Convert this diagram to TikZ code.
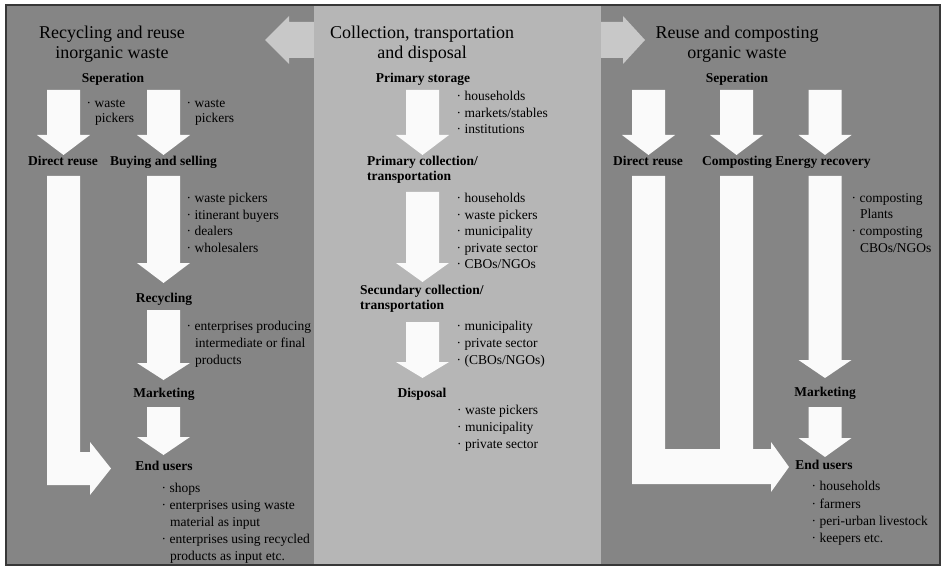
\documentclass[tikz,border=0pt]{standalone}
\usepackage{fontspec}
\setmainfont{Liberation Serif}
\definecolor{paneldark}{RGB}{133,133,133}
\definecolor{panellight}{RGB}{182,182,182}
\definecolor{toparrow}{RGB}{200,200,200}
\definecolor{blockwhite}{RGB}{250,250,250}
\definecolor{framegray}{RGB}{55,55,55}
\newcommand\wdarrow[4]{%
  \fill[blockwhite] ({#1-16.5},{#2}) -- ({#1+16.5},{#2}) -- ({#1+16.5},{#3}) -- ({#1+26.5},{#3})
    -- ({#1},{#4}) -- ({#1-26.5},{#3}) -- ({#1-16.5},{#3}) -- cycle;}
\begin{document}
\begin{tikzpicture}[x=1pt,y=-1pt,
  ttl/.style={font=\fontsize{18}{20}\selectfont, inner sep=0pt, anchor=mid},
  lbl/.style={font=\fontsize{13.5}{16}\selectfont\bfseries, inner sep=0pt, anchor=mid},
  lblw/.style={font=\fontsize{13.5}{16}\selectfont\bfseries, inner sep=0pt, anchor=mid west},
  itm/.style={font=\fontsize{13.5}{16}\selectfont, inner sep=0pt, anchor=mid west}]
\useasboundingbox (0,0) rectangle (943,567);
% panels
\fill[paneldark] (6,5) rectangle (314,565);
\fill[paneldark] (601,5) rectangle (940,565);
% top double arrow
\fill[toparrow] (265,40) -- (289,16) -- (289,22) -- (623,22) -- (623,16) -- (645,40)
  -- (623,64) -- (623,58) -- (289,58) -- (289,64) -- cycle;
\fill[panellight] (314,5) rectangle (601,565);
\draw[framegray, line width=1.2pt] (6,5) rectangle (940,565);

% ---------- left panel ----------
\wdarrow{63.5}{90}{135}{155}
\wdarrow{163.5}{90}{135}{155}
\wdarrow{163.5}{176}{263}{283}
\wdarrow{163.5}{310}{363}{380}
\wdarrow{163.5}{407}{437}{455}
\fill[blockwhite] (47,176) -- (80,176) -- (80,452) -- (90,452) -- (90,442) -- (111,468.5)
  -- (90,495) -- (90,485) -- (47,485) -- cycle;

\node[ttl] (lt1) at (112,36) {Recycling and reuse};
\node[ttl] (lt2) at (112,56) {inorganic waste};
\node[lbl] (lsep) at (113,80) {Seperation};
\node[itm] (lw1a) at (86.5,105) {· waste};
\node[itm] (lw1b) at (95,120) {pickers};
\node[itm] (lw2a) at (186.5,105) {· waste};
\node[itm] (lw2b) at (195,120) {pickers};
\node[lbl] (ldr) at (63,163) {Direct reuse};
\node[lbl] (lbs) at (163.5,163) {Buying and selling};
\node[itm] (lb1) at (186.5,200) {· waste pickers};
\node[itm] (lb2) at (186.5,217) {· itinerant buyers};
\node[itm] (lb3) at (186.5,233) {· dealers};
\node[itm] (lb4) at (186.5,250) {· wholesalers};
\node[lbl] (lrec) at (164,300) {Recycling};
\node[itm] (lr1) at (186.5,328) {· enterprises producing};
\node[itm] (lr2) at (195,345) {intermediate or final};
\node[itm] (lr3) at (195,362) {products};
\node[lbl] (lmk) at (164,395) {Marketing};
\node[lbl] (leu) at (164,468) {End users};
\node[itm] (le1) at (161.5,490) {· shops};
\node[itm] (le2) at (161.5,507) {· enterprises using waste};
\node[itm] (le3) at (170,524) {material as input};
\node[itm] (le4) at (161.5,541) {· enterprises using recycled};
\node[itm] (le5) at (170,558) {products as input etc.};

% ---------- center panel ----------
\wdarrow{422.5}{90}{135}{155}
\wdarrow{422.5}{192}{263}{282}
\wdarrow{422.5}{322}{362}{378}

\node[ttl] (ct1) at (422,36) {Collection, transportation};
\node[ttl] (ct2) at (422,56) {and disposal};
\node[lbl] (cps) at (423,80) {Primary storage};
\node[itm] (cs1) at (456.5,98) {· households};
\node[itm] (cs2) at (456.5,115) {· markets/stables};
\node[itm] (cs3) at (456.5,131) {· institutions};
\node[lblw] (cpc1) at (367,163) {Primary collection/};
\node[lblw] (cpc2) at (367,178) {transportation};
\node[itm] (cp1) at (456.5,200) {· households};
\node[itm] (cp2) at (456.5,217) {· waste pickers};
\node[itm] (cp3) at (456.5,233) {· municipality};
\node[itm] (cp4) at (456.5,250) {· private sector};
\node[itm] (cp5) at (456.5,266) {· CBOs/NGOs};
\node[lblw] (csc1) at (360,292) {Secundary collection/};
\node[lblw] (csc2) at (360,307) {transportation};
\node[itm] (cc1) at (456.5,328) {· municipality};
\node[itm] (cc2) at (456.5,345) {· private sector};
\node[itm] (cc3) at (456.5,362) {· (CBOs/NGOs)};
\node[lbl] (cdis) at (422,395) {Disposal};
\node[itm] (cd1) at (457,412) {· waste pickers};
\node[itm] (cd2) at (457,429) {· municipality};
\node[itm] (cd3) at (457,446) {· private sector};

% ---------- right panel ----------
\wdarrow{648.5}{90}{135}{155}
\wdarrow{736.5}{90}{135}{155}
\wdarrow{825}{90}{135}{155}
\wdarrow{825}{176}{360}{378}
\wdarrow{825}{407}{438}{457}
\fill[blockwhite] (632,176) -- (665,176) -- (665,449) -- (720,449) -- (720,176) -- (753,176)
  -- (753,449) -- (771,449) -- (771,442) -- (789,467) -- (771,492) -- (771,484)
  -- (632,484) -- cycle;

\node[ttl] (rt1) at (737,36) {Reuse and composting};
\node[ttl] (rt2) at (737,56) {organic waste};
\node[lbl] (rsep) at (737,80) {Seperation};
\node[lbl] (rdr) at (648,163) {Direct reuse};
\node[lbl] (rcp) at (737,163) {Composting};
\node[lbl] (rer) at (823,163) {Energy recovery};
\node[itm] (re1) at (851.5,200) {· composting};
\node[itm] (re2) at (860,216) {Plants};
\node[itm] (re3) at (851.5,233) {· composting};
\node[itm] (re4) at (860,250) {CBOs/NGOs};
\node[lbl] (rmk) at (825,394) {Marketing};
\node[lbl] (reu) at (824,467) {End users};
\node[itm] (ru1) at (811.5,488) {· households};
\node[itm] (ru2) at (811.5,506) {· farmers};
\node[itm] (ru3) at (811.5,523) {· peri-urban livestock};
\node[itm] (ru4) at (811.5,540) {· keepers etc.};
\end{tikzpicture}
\end{document}
